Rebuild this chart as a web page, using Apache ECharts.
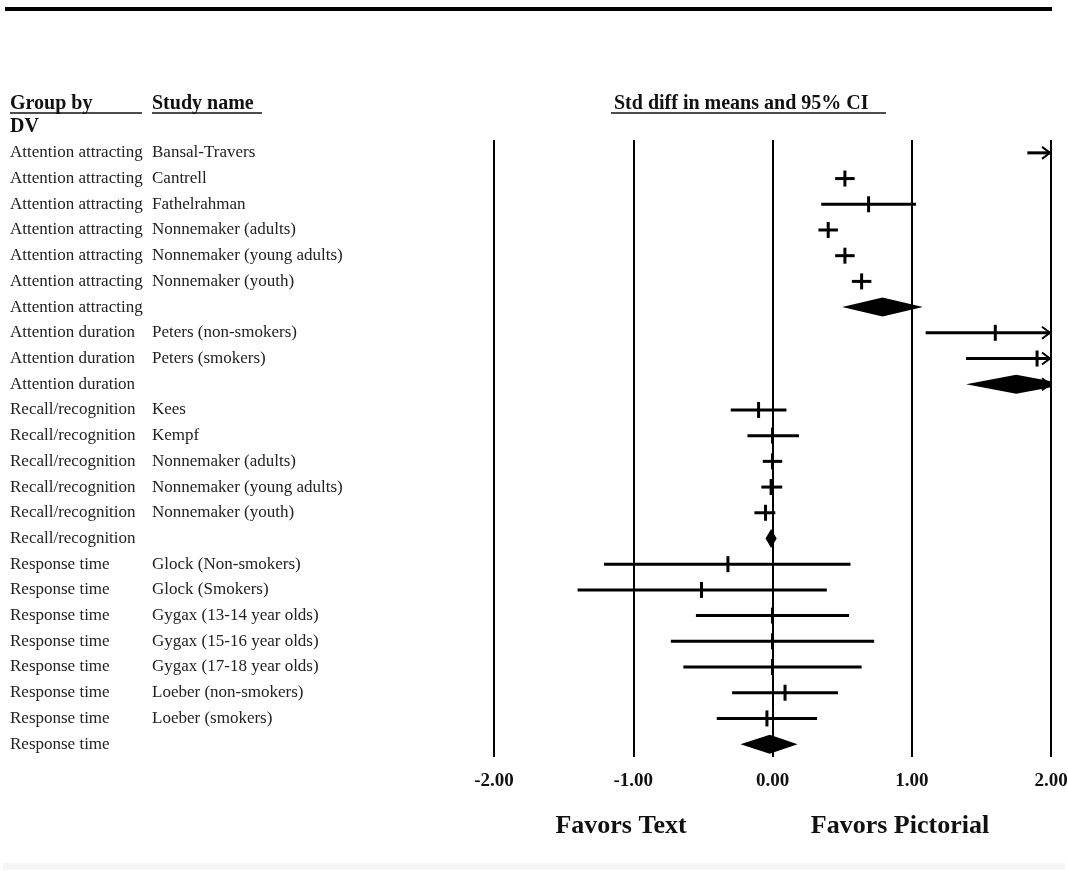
<!DOCTYPE html>
<html>
<head>
<meta charset="utf-8">
<script src="https://cdn.jsdelivr.net/npm/echarts@6/dist/echarts.min.js"></script>
<style>
  html, body { margin: 0; padding: 0; background: #fff; }
  #chart { width: 1068px; height: 871px; }
</style>
</head>
<body>
<div id="chart"></div>
<script>
// 分组 / 研究名称
const groups = [
  'Attention attracting', 'Attention attracting', 'Attention attracting', 'Attention attracting',
  'Attention attracting', 'Attention attracting', 'Attention attracting',
  'Attention duration', 'Attention duration', 'Attention duration',
  'Recall/recognition', 'Recall/recognition', 'Recall/recognition', 'Recall/recognition',
  'Recall/recognition', 'Recall/recognition',
  'Response time', 'Response time', 'Response time', 'Response time', 'Response time',
  'Response time', 'Response time', 'Response time'
]
const studies = [
  'Bansal-Travers', 'Cantrell', 'Fathelrahman', 'Nonnemaker (adults)',
  'Nonnemaker (young adults)', 'Nonnemaker (youth)', '',
  'Peters (non-smokers)', 'Peters (smokers)', '',
  'Kees', 'Kempf', 'Nonnemaker (adults)', 'Nonnemaker (young adults)',
  'Nonnemaker (youth)', '',
  'Glock (Non-smokers)', 'Glock (Smokers)', 'Gygax (13-14 year olds)', 'Gygax (15-16 year olds)',
  'Gygax (17-18 year olds)', 'Loeber (non-smokers)', 'Loeber (smokers)', ''
]
// 0 = 单项研究, 1 = 汇总（菱形）
const kinds = [0, 0, 0, 0, 0, 0, 1, 0, 0, 1, 0, 0, 0, 0, 0, 1, 0, 0, 0, 0, 0, 0, 0, 1]
const estimates = [
  2.10, 0.52, 0.69, 0.40, 0.52, 0.64, 0.79,
  1.60, 1.90, 1.75,
  -0.10, 0.00, 0.00, -0.01, -0.05, -0.01,
  -0.32, -0.51, 0.00, 0.00, 0.00, 0.09, -0.04, -0.02
]
const lower = [
  1.83, 0.45, 0.35, 0.33, 0.45, 0.57, 0.50,
  1.10, 1.39, 1.39,
  -0.30, -0.18, -0.07, -0.08, -0.13, -0.05,
  -1.21, -1.40, -0.55, -0.73, -0.64, -0.29, -0.40, -0.23
]
const upper = [
  2.40, 0.59, 1.03, 0.47, 0.59, 0.71, 1.08,
  2.10, 2.40, 2.12,
  0.10, 0.19, 0.07, 0.07, 0.02, 0.03,
  0.56, 0.39, 0.55, 0.73, 0.64, 0.47, 0.32, 0.18
]
const xTicks = [-2, -1, 0, 1, 2]

const rowLabels = groups.map((g, i) => '{g|' + g + '}{s|' + studies[i] + '}')
const seriesData = groups.map((g, i) => [i, estimates[i], lower[i], upper[i], kinds[i]])

const XMIN = xTicks[0]
const XMAX = xTicks[xTicks.length - 1]
const serif = '"Liberation Serif", "DejaVu Serif", serif'

// 绘制置信区间、点估计和菱形
const renderItem = (params, api) => {
  const i = api.value(0)
  const est = api.value(1)
  const lo = api.value(2)
  const hi = api.value(3)
  const kind = api.value(4)
  const y = api.coord([0, i])[1]
  const xLo = api.coord([Math.max(lo, XMIN), i])[0]
  const xHi = api.coord([Math.min(hi, XMAX), i])[0]
  const xEst = api.coord([est, i])[0]
  const children = []
  const stroke = { stroke: '#000', lineWidth: 3 }
  if (kind === 1) {
    const h = 9.5
    const xr = api.coord([hi, i])[0]
    children.push({
      type: 'polygon',
      shape: { points: [[xLo, y], [xEst, y - h], [xr, y], [xEst, y + h]] },
      style: { fill: '#000' }
    })
  } else {
    children.push({ type: 'line', shape: { x1: xLo, y1: y, x2: xHi, y2: y }, style: stroke })
    if (est <= XMAX && est >= XMIN) {
      children.push({ type: 'line', shape: { x1: xEst, y1: y - 8, x2: xEst, y2: y + 8 }, style: stroke })
    }
  }
  if (hi > XMAX) {
    children.push({
      type: 'polyline',
      shape: { points: [[xHi - 9, y - 6], [xHi - 1, y], [xHi - 9, y + 6]] },
      style: { stroke: '#000', lineWidth: 2, fill: null }
    })
    if (kind === 1) {
      children.push({ type: 'line', shape: { x1: xHi - 30, y1: y, x2: xHi, y2: y }, style: { stroke: '#000', lineWidth: 2 } })
    }
  }
  return { type: 'group', children }
}

const chart = echarts.init(document.getElementById('chart'))

const headerStyle = { fontFamily: serif, fontSize: 20, fontWeight: 'bold', fill: '#111' }

const option = {
  backgroundColor: '#fff',
  animation: false,
  grid: { left: 494, right: 17, top: 140, bottom: 114, outerBoundsMode: 'none', containLabel: false },
  xAxis: {
    type: 'value',
    min: XMIN,
    max: XMAX,
    interval: 1,
    axisLine: { show: false },
    axisTick: { show: false },
    splitLine: { show: true, showMinLine: true, showMaxLine: true, lineStyle: { color: '#000', width: 2 } },
    axisLabel: {
      margin: 15,
      fontFamily: serif,
      fontSize: 19,
      fontWeight: 'bold',
      color: '#111',
      formatter: v => v.toFixed(2)
    }
  },
  yAxis: {
    type: 'category',
    data: rowLabels,
    inverse: true,
    axisLine: { show: false },
    axisTick: { show: false },
    splitLine: { show: false },
    axisLabel: {
      align: 'left',
      margin: 484,
      interval: 0,
      rich: {
        g: { fontFamily: serif, fontSize: 17, color: '#222', width: 142 },
        s: { fontFamily: serif, fontSize: 17, color: '#222' }
      }
    }
  },
  series: [
    {
      type: 'custom',
      renderItem,
      clip: true,
      encode: { x: [1, 2, 3], y: 0 },
      data: seriesData
    }
  ],
  graphic: [
    { type: 'rect', shape: { x: 5, y: 7, width: 1047, height: 4 }, style: { fill: '#000' } },
    { type: 'text', left: 10, top: 94, style: Object.assign({ text: 'Group by' }, headerStyle) },
    { type: 'line', shape: { x1: 10, y1: 113, x2: 142, y2: 113 }, style: { stroke: '#111', lineWidth: 1.5 } },
    { type: 'text', left: 10, top: 117, style: Object.assign({ text: 'DV' }, headerStyle) },
    { type: 'text', left: 152, top: 94, style: Object.assign({ text: 'Study name' }, headerStyle) },
    { type: 'line', shape: { x1: 152, y1: 113, x2: 262, y2: 113 }, style: { stroke: '#111', lineWidth: 1.5 } },
    { type: 'text', left: 614, top: 94, style: Object.assign({ text: 'Std diff in means and 95% CI' }, headerStyle) },
    { type: 'line', shape: { x1: 611, y1: 113, x2: 886, y2: 113 }, style: { stroke: '#111', lineWidth: 1.5 } },
    { type: 'text', x: 621, y: 826, style: { text: 'Favors Text', fontFamily: serif, fontSize: 26, fontWeight: 'bold', fill: '#111', align: 'center', verticalAlign: 'middle' } },
    { type: 'text', x: 900, y: 826, style: { text: 'Favors Pictorial', fontFamily: serif, fontSize: 26, fontWeight: 'bold', fill: '#111', align: 'center', verticalAlign: 'middle' } },
    { type: 'rect', shape: { x: 3, y: 863, width: 1062, height: 7 }, style: { fill: '#f6f6f6' } }
  ]
}

chart.setOption(option)
</script>
</body>
</html>
